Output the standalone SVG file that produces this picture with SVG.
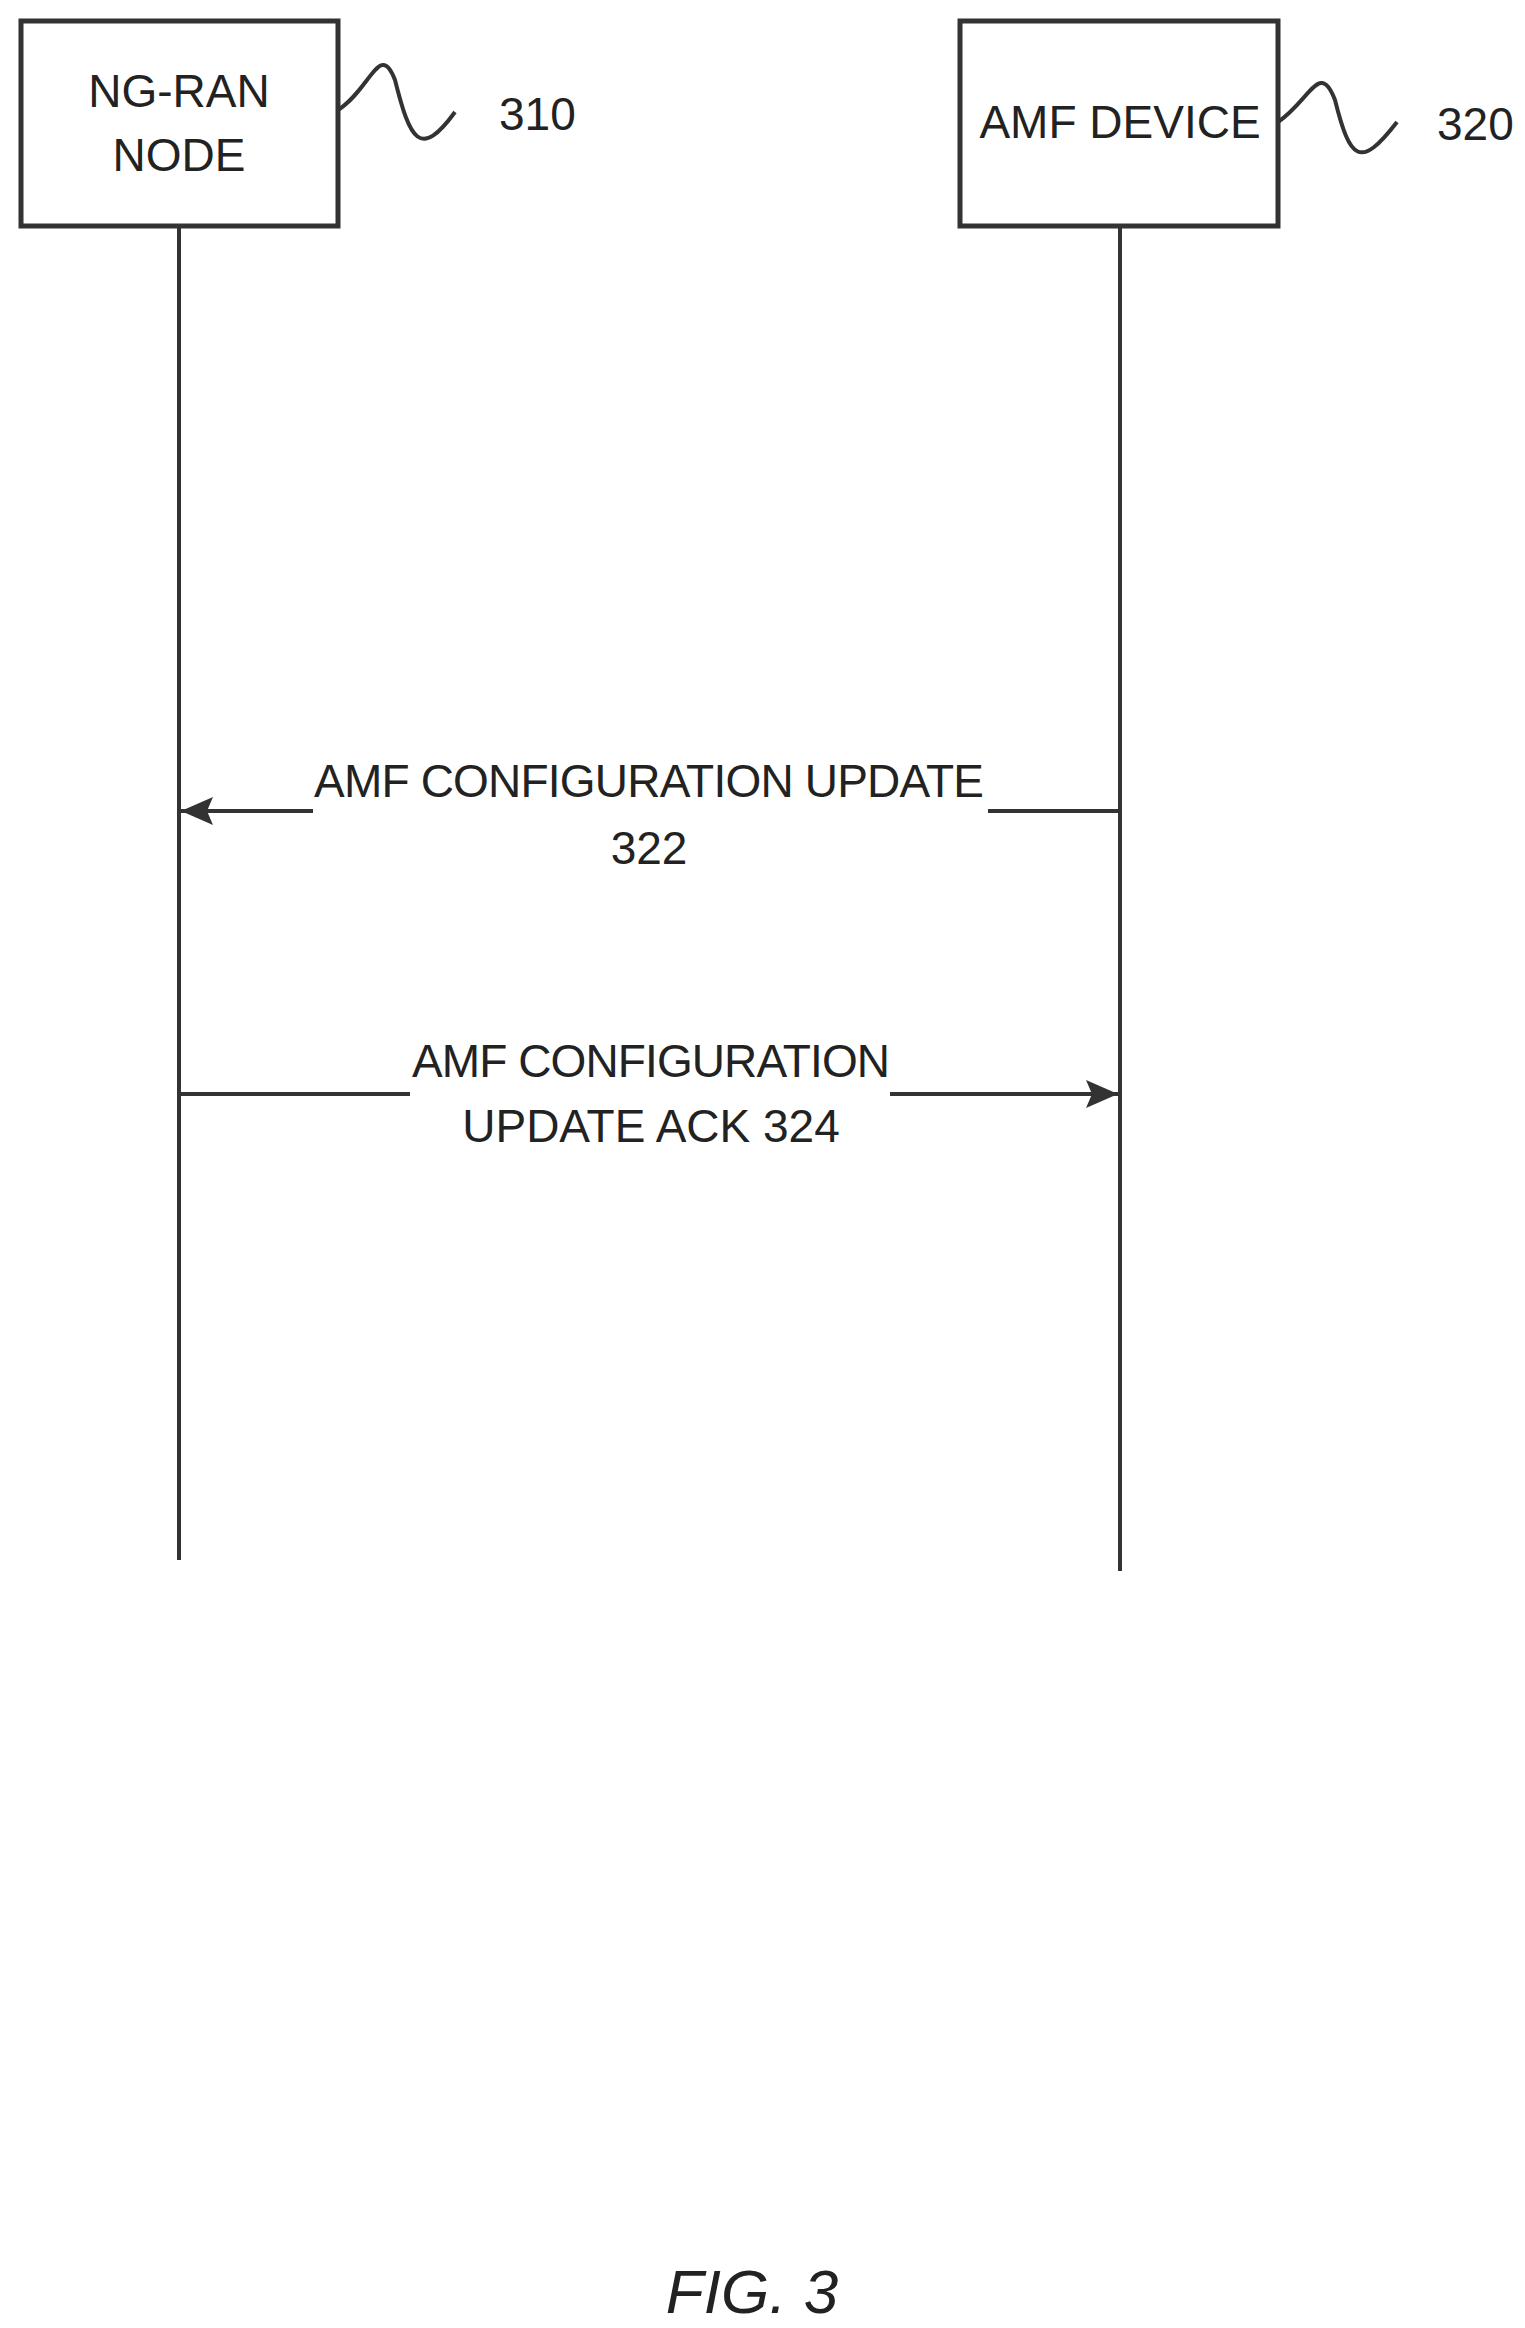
<svg xmlns="http://www.w3.org/2000/svg" width="1525" height="2328" viewBox="0 0 1525 2328">
<style>
text{font-family:"Liberation Sans",Arial,sans-serif;font-size:46px;fill:#222}
.box{fill:#fff;stroke:#333;stroke-width:5}
.ln{stroke:#333;stroke-width:4;fill:none}
</style>
<defs><marker id="ah" markerWidth="10" markerHeight="10" refX="9" refY="5" orient="auto" markerUnits="userSpaceOnUse" viewBox="0 0 10 10"><path d="M0,0L10,5L0,10z" fill="#333"/></marker>
<marker id="a2" markerWidth="32" markerHeight="28" refX="32" refY="14" orient="auto" markerUnits="userSpaceOnUse"><path d="M0,0L32,14L0,28L6,14z" fill="#333"/></marker></defs>
<g id="ngran"><rect class="box" x="21" y="21" width="317" height="205"/><text x="179" y="107" text-anchor="middle">NG-RAN</text><text x="179" y="171" text-anchor="middle">NODE</text>
<path class="ln" d="M338,110 C370,90 380,40 395,80 C410,140 420,160 455,112"/><text x="499" y="130">310</text></g>
<g id="amf"><rect class="box" x="960" y="21" width="318" height="205"/><text x="1120" y="138" text-anchor="middle">AMF DEVICE</text>
<path class="ln" d="M1278,122 C1310,100 1320,60 1335,100 C1350,160 1360,170 1397,122"/><text x="1437" y="140">320</text></g>
<g id="connectors">
<line class="ln" x1="179" y1="226" x2="179" y2="1560"/>
<line class="ln" x1="1120" y1="226" x2="1120" y2="1571"/>
<line class="ln" x1="1120" y1="811" x2="988" y2="811"/>
<line class="ln" x1="313" y1="811" x2="181" y2="811" marker-end="url(#a2)"/>
<text x="649" y="797" text-anchor="middle" textLength="670">AMF CONFIGURATION UPDATE</text>
<text x="649" y="864" text-anchor="middle">322</text>
<line class="ln" x1="179" y1="1094" x2="410" y2="1094"/>
<line class="ln" x1="890" y1="1094" x2="1118" y2="1094" marker-end="url(#a2)"/>
<text x="651" y="1077" text-anchor="middle" textLength="478">AMF CONFIGURATION</text>
<text x="651" y="1142" text-anchor="middle">UPDATE ACK 324</text>
</g>
<text x="752" y="2313" text-anchor="middle" font-style="italic" style="font-size:62px">FIG. 3</text>
</svg>
